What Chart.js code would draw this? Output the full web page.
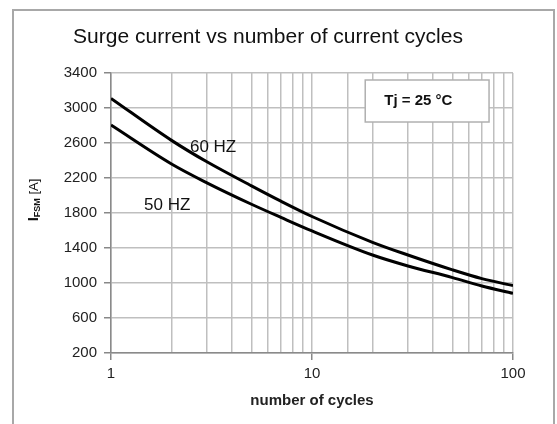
<!DOCTYPE html>
<html>
<head>
<meta charset="utf-8">
<script src="https://cdn.jsdelivr.net/npm/chart.js@4/dist/chart.umd.min.js"></script>
<style>
  html, body { margin: 0; padding: 0; background: #fff; }
  #wrap { width: 557px; height: 424px; }
</style>
</head>
<body>
<div id="wrap"><canvas id="surge"></canvas></div>
<script>
// values
const cycles = [1, 2, 3, 5, 7, 10, 20, 30, 50, 70, 100];
const i60 = [3110, 2630, 2385, 2110, 1935, 1760, 1465, 1320, 1150, 1050, 970];
const i50 = [2805, 2360, 2145, 1900, 1750, 1595, 1320, 1195, 1062, 965, 882];
const xLabels = [1, 10, 100];
const yMin = 200;
const yMax = 3400;
const yStep = 400;

const titleText = 'Surge current vs number of current cycles';
const FONT = '"Liberation Sans", Arial, sans-serif';

function pts(xs, ys) {
  return xs.map((x, i) => ({ x: x, y: ys[i] }));
}

// frame, title, y title, curve labels and Tj box
const extras = {
  id: 'extras',
  beforeDraw(chart) {
    const c = chart.ctx;
    c.save();
    c.fillStyle = '#fff';
    c.fillRect(0, 0, chart.width, chart.height);
    c.strokeStyle = '#a8a8a8';
    c.lineWidth = 2;
    c.strokeRect(13, 10, 541, 430);
    c.restore();
  },
  afterDraw(chart) {
    const c = chart.ctx;
    const xs = chart.scales.x, ys = chart.scales.y;
    c.save();
    c.fillStyle = '#111';
    c.textBaseline = 'middle';
    c.textAlign = 'center';
    c.font = '21px ' + FONT;
    c.fillText(titleText, 268, 37);

    // y title: I with FSM subscript, rotated
    c.save();
    c.translate(34, 200);
    c.rotate(-Math.PI / 2);
    c.textAlign = 'left';
    c.font = 'bold 15px ' + FONT;
    const w1 = c.measureText('I').width;
    c.font = 'bold 9px ' + FONT;
    const w2 = c.measureText('FSM').width;
    c.font = '13px ' + FONT;
    const w3 = c.measureText(' [A]').width;
    let x0 = -(w1 + w2 + w3) / 2;
    c.font = 'bold 15px ' + FONT;
    c.fillText('I', x0, 0);
    c.font = 'bold 9px ' + FONT;
    c.fillText('FSM', x0 + w1, 4);
    c.font = '13px ' + FONT;
    c.fillText(' [A]', x0 + w1 + w2, 0);
    c.restore();

    c.font = '17px ' + FONT;
    c.textAlign = 'left';
    c.fillText('60 HZ', xs.getPixelForValue(2.47), ys.getPixelForValue(2550));
    c.fillText('50 HZ', xs.getPixelForValue(1.46), ys.getPixelForValue(1890));

    // Tj box
    const bx = xs.getPixelForValue(18.4), bx2 = xs.getPixelForValue(76);
    const by = ys.getPixelForValue(3320), by2 = ys.getPixelForValue(2840);
    c.fillStyle = '#fff';
    c.fillRect(bx, by, bx2 - bx, by2 - by);
    c.strokeStyle = '#b0b0b0';
    c.lineWidth = 1.5;
    c.strokeRect(bx, by, bx2 - bx, by2 - by);
    c.fillStyle = '#111';
    c.font = 'bold 15px ' + FONT;
    c.fillText('Tj = 25 \u00B0C', bx + 19, (by + by2) / 2);
    c.restore();
  }
};

new Chart(document.getElementById('surge'), {
  type: 'line',
  data: {
    datasets: [
      {
        label: '60 HZ',
        data: pts(cycles, i60),
        borderColor: '#000',
        borderWidth: 3,
        pointRadius: 0,
        cubicInterpolationMode: 'monotone'
      },
      {
        label: '50 HZ',
        data: pts(cycles, i50),
        borderColor: '#000',
        borderWidth: 3,
        pointRadius: 0,
        cubicInterpolationMode: 'monotone'
      }
    ]
  },
  options: {
    responsive: true,
    maintainAspectRatio: false,
    animation: false,
    layout: { padding: { top: 73, right: 44, left: 0, bottom: 0 } },
    plugins: {
      legend: { display: false },
      title: { display: false },
      tooltip: { enabled: false }
    },
    scales: {
      x: {
        type: 'logarithmic',
        min: 1,
        max: 100,
        afterFit(s) { s.height = 71; },
        grid: {
          color: '#bfbfbf',
          lineWidth: 1.5,
          tickLength: 7,
          tickColor: ctx => xLabels.includes(ctx.tick && ctx.tick.value) ? '#888' : 'rgba(0,0,0,0)'
        },
        border: { color: '#8a8a8a', width: 1.5 },
        ticks: {
          autoSkip: false,
          maxRotation: 0,
          padding: 5,
          color: '#222',
          font: { family: FONT, size: 15 },
          callback: v => xLabels.includes(v) ? String(v) : ''
        },
        title: {
          display: true,
          text: 'number of cycles',
          color: '#222',
          font: { family: FONT, size: 15, weight: 'bold' },
          padding: { top: 0, bottom: 14 }
        }
      },
      y: {
        type: 'linear',
        min: yMin,
        max: yMax,
        afterFit(s) { s.width = 111; },
        grid: {
          color: '#bfbfbf',
          lineWidth: 1.5,
          tickLength: 7,
          tickColor: '#888'
        },
        border: { color: '#8a8a8a', width: 1.5 },
        ticks: {
          stepSize: yStep,
          padding: 7,
          color: '#222',
          font: { family: FONT, size: 15 },
          callback: v => String(v)
        }
      }
    }
  },
  plugins: [extras]
});
</script>
</body>
</html>
